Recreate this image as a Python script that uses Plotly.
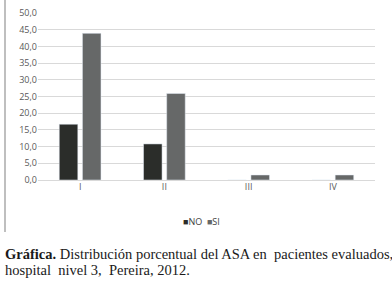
import plotly.graph_objects as go

categories = ["I", "II", "III", "IV"]
no_values = [16.7, 10.8, 0.0, 0.0]
si_values = [43.9, 25.9, 1.5, 1.5]
y_tick_values = [0, 5, 10, 15, 20, 25, 30, 35, 40, 45, 50]
y_tick_labels = ["0,0", "5,0", "10,0", "15,0", "20,0", "25,0", "30,0", "35,0", "40,0", "45,0", "50,0"]

W, H = 392, 282
L, R, T, B = 38, 17, 13, 102
pw, ph = W - L - R, H - T - B

def px(x):
    return (x - L) / pw

def py(y):
    return (H - B - y) / ph

NO_COLOR = "#2b2d2a"
SI_COLOR = "#666868"

fig = go.Figure()
fig.add_trace(go.Bar(x=categories, y=no_values, name="NO", marker_color=NO_COLOR))
fig.add_trace(go.Bar(x=categories, y=si_values, name="SI", marker_color=SI_COLOR))

fig.update_layout(
    width=W, height=H,
    margin=dict(l=L, r=R, t=T, b=B, autoexpand=False),
    paper_bgcolor="white", plot_bgcolor="white",
    barmode="group", bargap=0.45, bargroupgap=0.2,
    font=dict(family="Open Sans", size=9, color="#595959"),
    xaxis=dict(showgrid=False, showline=False, ticks="", automargin=False,
               tickfont=dict(size=9, color="#595959")),
    yaxis=dict(range=[0, 50], tickvals=y_tick_values, ticktext=y_tick_labels, automargin=False,
               showgrid=True, gridcolor="#d9d9d9", gridwidth=1, zeroline=True,
               zerolinecolor="#d9d9d9", zerolinewidth=1, ticks="", showline=False,
               tickfont=dict(size=9, color="#595959")),
    showlegend=False,
)

fig.add_annotation(xref="paper", yref="paper", x=px(201), y=py(221), xanchor="center", yanchor="middle",
                   showarrow=False,
                   text=f"<span style='color:{NO_COLOR}'>■</span>NO  <span style='color:{SI_COLOR}'>■</span>SI",
                   font=dict(family="Open Sans", size=9, color="#404040"))

fig.add_shape(type="line", xref="paper", yref="paper",
              x0=px(5), x1=px(5), y0=py(232), y1=py(0),
              line=dict(color="#bfbfbf", width=2))

fig.add_annotation(xref="paper", yref="paper", x=px(3), y=py(254), xanchor="left", yanchor="middle",
                   showarrow=False,
                   text="<b>Gráfica.</b> Distribución porcentual del ASA en  pacientes evaluados,",
                   font=dict(family="Liberation Serif", size=14.5, color="#1a1a1a"))
fig.add_annotation(xref="paper", yref="paper", x=px(3), y=py(270), xanchor="left", yanchor="middle",
                   showarrow=False,
                   text="hospital  nivel 3,  Pereira, 2012.",
                   font=dict(family="Liberation Serif", size=14.5, color="#1a1a1a"))

fig.write_html("out.html", config={"displayModeBar": False},
               post_script="document.body.style.margin='0';")
